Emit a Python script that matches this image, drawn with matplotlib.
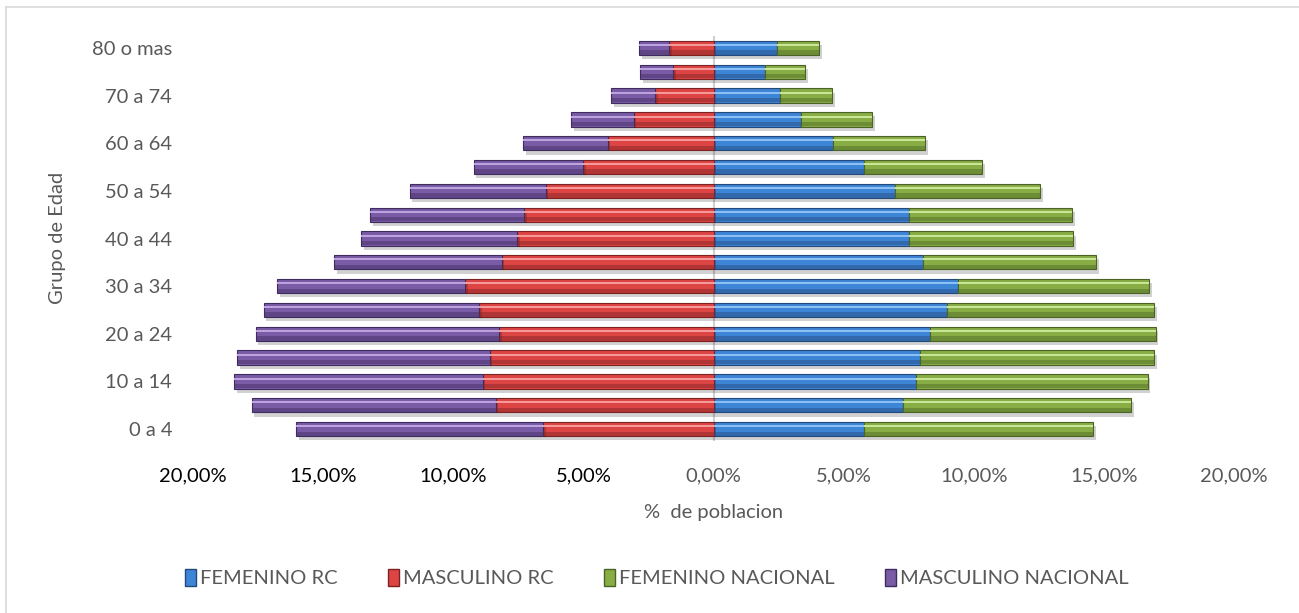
import matplotlib
matplotlib.use("Agg")
import numpy as np
import matplotlib.pyplot as plt
import matplotlib.patheffects as pe
from matplotlib.lines import Line2D
from matplotlib.patches import Patch

plt.rcParams['font.family'] = ['Lato', 'DejaVu Sans']

# Age groups (bottom to top) and shares of population, in %
grupos = ['0 a 4', '5 a 9', '10 a 14', '15 a 19', '20 a 24', '25 a 29',
          '30 a 34', '35 a 39', '40 a 44', '45 a 49', '50 a 54', '55 a 59',
          '60 a 64', '65 a 69', '70 a 74', '75 a 79', '80 o mas']
masculino_rc = [6.55, 8.37, 8.87, 8.60, 8.25, 9.01, 9.54, 8.14, 7.56, 7.28,
                6.45, 5.02, 4.07, 3.07, 2.25, 1.55, 1.72]
masculino_nac = [9.50, 9.38, 9.54, 9.70, 9.34, 8.28, 7.22, 6.45, 5.97, 5.90,
                 5.23, 4.20, 3.26, 2.40, 1.69, 1.28, 1.14]
femenino_rc = [5.77, 7.28, 7.79, 7.95, 8.33, 8.97, 9.41, 8.06, 7.53, 7.53,
               6.98, 5.78, 4.60, 3.38, 2.56, 1.99, 2.43]
femenino_nac = [8.82, 8.78, 8.89, 8.99, 8.66, 7.97, 7.34, 6.65, 6.30, 6.25,
                5.57, 4.55, 3.54, 2.72, 2.00, 1.53, 1.63]
ticks_x = [-20, -15, -10, -5, 0, 5, 10, 15, 20]

W, H = 1299, 613
fig = plt.figure(figsize=(W / 100, H / 100), dpi=100)

# thin frame on the top and left edges
fig.add_artist(Line2D([6 / W, 6 / W], [0, 1 - 7 / H], transform=fig.transFigure,
                      color='#d9d9d9', lw=1.2))
fig.add_artist(Line2D([6 / W, 1], [1 - 7 / H, 1 - 7 / H], transform=fig.transFigure,
                      color='#d9d9d9', lw=1.2))

ax = fig.add_axes([193 / W, 1 - 441 / H, (1234 - 193) / W, (441 - 36) / H])

y = np.arange(len(grupos))
h = 0.6
m_rc = -np.array(masculino_rc)
m_nac = -np.array(masculino_nac)
f_rc = np.array(femenino_rc)
f_nac = np.array(femenino_nac)

series = [
    (f_rc, 0, '#3d85d6', '#8cc0f5', '#23497a'),
    (m_rc, 0, '#dd4544', '#f59a98', '#7d2221'),
    (f_nac, f_rc, '#88ad45', '#c9e596', '#4b6425'),
    (m_nac, m_rc, '#7a5ba6', '#bca3e0', '#3f2c5e'),
]
shadow = [pe.SimplePatchShadow(offset=(2, -3), shadow_rgbFace='black', alpha=0.18),
          pe.Normal()]
for vals, left, base, light, dark in series:
    bars = ax.barh(y, vals, left=left, height=h, color=base,
                   edgecolor=dark, linewidth=0.8, zorder=2)
    for b in bars:
        b.set_path_effects(shadow)
    # bevel: dark lower band and bright upper stripe
    ax.barh(y - h * 0.32, vals, left=left, height=h * 0.3, color=dark,
            alpha=0.45, linewidth=0, zorder=3)
    ax.barh(y + h * 0.2, vals, left=left, height=h * 0.14, color=light,
            linewidth=0, zorder=3)

ax.axvline(0, color='#d0d0d0', lw=1.5, zorder=1)

ax.set_xlim(-20, 20)
ax.set_ylim(-0.5, len(grupos) - 0.5)
ax.set_xticks(ticks_x)
ax.set_xticklabels([f'{abs(t):.2f}'.replace('.', ',') + '%' for t in ticks_x])
for t, lab in zip(ticks_x, ax.get_xticklabels()):
    lab.set_color('black' if t < 0 else '#595959')
ax.set_yticks(y[::2])
ax.set_yticklabels(grupos[::2], color='#595959')
ax.tick_params(axis='both', length=0, labelsize=14.5)
ax.tick_params(axis='x', pad=19)
ax.tick_params(axis='y', pad=15)
for s in ax.spines.values():
    s.set_visible(False)

ax.set_xlabel('%  de poblacion', fontsize=14.5, color='#595959', labelpad=14)
fig.text(58 / W, 1 - 238 / H, 'Grupo de Edad', rotation=90, ha='center',
         va='center', fontsize=14.5, color='#595959')

handles = [Patch(facecolor='#3d85d6', edgecolor='#23497a'),
           Patch(facecolor='#dd4544', edgecolor='#7d2221'),
           Patch(facecolor='#88ad45', edgecolor='#4b6425'),
           Patch(facecolor='#7a5ba6', edgecolor='#3f2c5e')]
labels = ['FEMENINO RC', 'MASCULINO RC', 'FEMENINO NACIONAL', 'MASCULINO NACIONAL']
leg = fig.legend(handles, labels, loc='center', bbox_to_anchor=(657 / W, 1 - 578 / H),
                 ncol=4, frameon=False, fontsize=14.5, handlelength=0.55,
                 handleheight=0.9, handletextpad=0.2, columnspacing=2.5)
for t in leg.get_texts():
    t.set_color('#595959')

fig.savefig('out.png', dpi=100)
